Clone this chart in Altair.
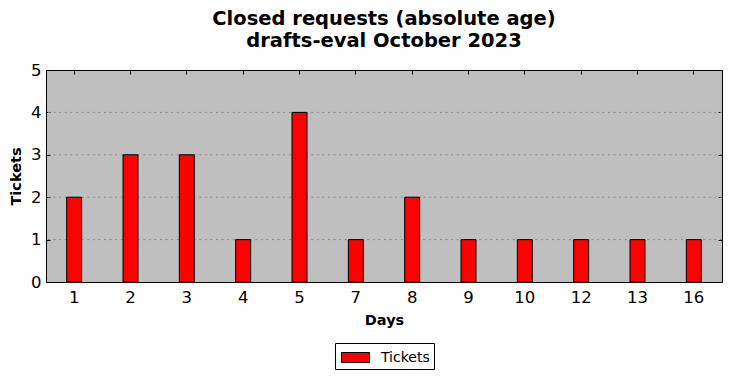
import altair as alt
import pandas as pd

days = ["1", "2", "3", "4", "5", "7", "8", "9", "10", "12", "13", "16"]
tickets = [2, 3, 3, 1, 4, 1, 2, 1, 1, 1, 1, 1]
grid_values = [1, 2, 3, 4]

df = pd.DataFrame({"Days": days, "Tickets": tickets, "series": ["Tickets"] * len(days)})
gdf = pd.DataFrame({"g": grid_values})

FONT = "DejaVu Sans"

xscale = alt.Scale(domain=days, paddingInner=0, paddingOuter=0)
yscale = alt.Scale(domain=[0, 5], nice=False)

grid = alt.Chart(gdf).mark_rule(color="#8a8a8a", strokeDash=[2, 3.6], strokeWidth=1).encode(
    y=alt.Y("g:Q", scale=yscale, axis=None)
)

bars = alt.Chart(df).mark_bar(size=15, stroke="black", strokeWidth=1).encode(
    x=alt.X("Days:O", scale=xscale, sort=days,
            axis=alt.Axis(orient="bottom", title="Days", labelAngle=0, domain=False,
                          offset=-4, tickSize=4, tickColor="black", labelPadding=7,
                          labelFontSize=16.5, labelFont=FONT, labelColor="black",
                          titleFont=FONT, titleFontSize=14.5, titleFontWeight="bold",
                          titlePadding=8, titleColor="black", grid=False)),
    y=alt.Y("Tickets:Q", scale=yscale,
            axis=alt.Axis(orient="left", title="Tickets", values=[0, 1, 2, 3, 4, 5],
                          domain=False, offset=-4, tickSize=4, tickColor="black",
                          labelPadding=5, labelFontSize=16.5, labelFont=FONT,
                          labelColor="black", titleFont=FONT, titleFontSize=14.5,
                          titleFontWeight="bold", titlePadding=7, titleColor="black",
                          grid=False)),
    color=alt.Color("series:N", scale=alt.Scale(domain=["Tickets"], range=["#ff0000"]),
                    legend=alt.Legend(title=None, orient="none", legendX=289, legendY=273,
                                      strokeColor="black", padding=4, cornerRadius=0,
                                      fillColor="white",
                                      symbolType="M-0.8,-0.5L2.0,-0.5L2.0,0.5L-0.8,0.5Z",
                                      symbolSize=400, symbolStrokeColor="black",
                                      symbolStrokeWidth=1, symbolFillColor="#ff0000",
                                      labelOffset=21,
                                      labelFont=FONT, labelFontSize=14, labelColor="black")),
)

ticks2 = alt.Chart(df).mark_bar(opacity=0).encode(
    x=alt.X("Days:O", scale=xscale, sort=days,
            axis=alt.Axis(orient="top", title=None, labels=False, domain=False,
                          offset=-4, tickSize=4, tickColor="black", grid=False)),
    y=alt.Y("Tickets:Q", scale=yscale,
            axis=alt.Axis(orient="right", title=None, labels=False, domain=False,
                          values=[0, 1, 2, 3, 4, 5],
                          offset=-4, tickSize=4, tickColor="black", grid=False)),
)

chart = alt.layer(grid, bars, ticks2).resolve_axis(x="independent", y="independent").properties(
    width=676, height=212,
    title=alt.TitleParams(["Closed requests (absolute age)", "drafts-eval October 2023"],
                          font=FONT, fontSize=19.5, fontWeight="bold", anchor="middle",
                          color="black", offset=11, lineHeight=22),
    autosize=alt.AutoSizeParams(type="none"),
    padding={"left": 46, "top": 70, "right": 10, "bottom": 96},
).configure_view(fill="#bfbfbf", stroke="black", strokeWidth=1)

chart.save("out.html", embed_options={"renderer": "svg", "actions": False})
